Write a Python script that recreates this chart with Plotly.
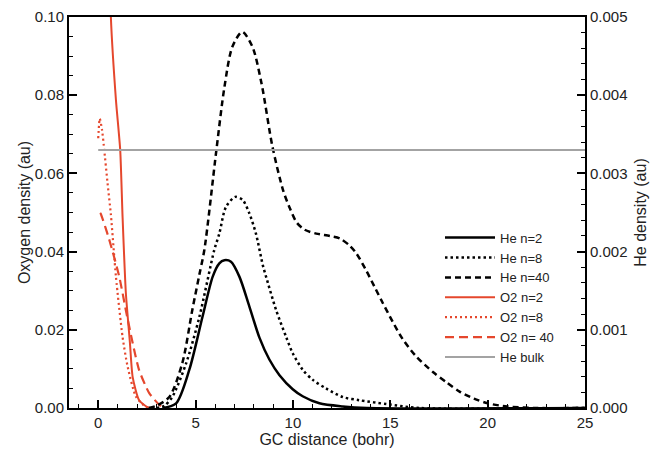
import plotly.graph_objects as go

# ---- data ----
he_n2_x = [3.3, 4.0, 4.68, 5.35, 5.88, 6.22, 6.48, 6.82, 7.25, 7.76, 8.28, 8.79, 9.31, 9.99, 10.5, 11.36, 12.56, 13.8, 25]
he_n2_y = [0, 0.00006, 0.00049, 0.00116, 0.00168, 0.00185, 0.00189, 0.00187, 0.00168, 0.0013, 0.0009, 0.00062,
           0.00042, 0.00024, 0.00015, 0.00006, 0.00002, 0, 0]

he_n8_x = [3.0, 3.4, 3.8, 4.52, 5.19, 5.96, 6.22, 6.56, 7.04, 7.42, 7.76, 8.1, 8.45, 8.62, 9.14, 9.65, 9.99,
           10.5, 11.02, 11.7, 12.56, 13.4, 14.8, 16.5, 25]
he_n8_y = [0, 0.00003, 0.00014, 0.000575, 0.00116, 0.00202, 0.00223, 0.00257, 0.0027, 0.00266, 0.00249, 0.00223,
           0.00183, 0.00168, 0.00125, 0.00091, 0.0007, 0.00049, 0.00036, 0.00025, 0.00014, 0.0001, 0.00005, 0, 0]

he_n40_x = [2.6, 3.0, 3.65, 4.32, 4.83, 5.19, 5.45, 6.07, 6.48, 6.89, 7.4, 7.92, 8.38, 8.95, 9.5, 9.85, 10.2,
            10.6, 11.2, 11.9, 12.4, 12.9, 13.25, 13.76, 14.19, 14.62, 15.13, 15.64, 16.33, 17.19, 17.88, 18.56,
            19.3, 20.0, 21.0, 22.5, 25]
he_n40_y = [0, 0.00003, 0.00014, 0.000575, 0.00125, 0.0017, 0.00202, 0.0033, 0.0041, 0.00462, 0.00481, 0.00462,
            0.00416, 0.00334, 0.00278, 0.00255, 0.00237, 0.00228, 0.00223, 0.0022, 0.00217, 0.00208, 0.00198,
            0.00176, 0.00155, 0.00134, 0.0011, 0.00088, 0.00066, 0.00046, 0.00033, 0.00021, 0.00012, 0.00006,
            0.00002, 0, 0]

o2_n2_x = [0.55, 0.65, 0.91, 1.13, 1.25, 1.42, 1.63, 1.77, 2.1, 2.5, 2.7]
o2_n2_y = [0.125, 0.1, 0.0788, 0.066, 0.049, 0.0294, 0.0166, 0.0079, 0.002, 0.0003, 0]

o2_n8_x = [0.0, 0.08, 0.2, 0.31, 0.48, 0.65, 0.91, 1.25, 1.51, 1.94, 2.45, 2.8]
o2_n8_y = [0.069, 0.074, 0.071, 0.066, 0.0575, 0.0495, 0.0336, 0.0182, 0.0106, 0.0029, 0.0003, 0]

o2_n40_x = [0.1, 0.13, 0.57, 1.08, 1.42, 1.77, 2.1, 2.62, 3.14, 3.4]
o2_n40_y = [0.0499, 0.0497, 0.043, 0.0336, 0.025, 0.0166, 0.0097, 0.0038, 0.0008, 0]

he_bulk_x = [0, 25]
he_bulk_y = [0.0033, 0.0033]

RED = "#e5472d"
FONT = "Liberation Sans, Arial, Helvetica, sans-serif"

fig = go.Figure()
fig.add_trace(go.Scatter(x=he_n2_x, y=he_n2_y, name="He n=2", yaxis="y2", mode="lines",
                         line=dict(color="black", width=2.5, shape="spline", smoothing=0.8)))
fig.add_trace(go.Scatter(x=he_n8_x, y=he_n8_y, name="He n=8", yaxis="y2", mode="lines",
                         line=dict(color="black", width=2.5, dash="2.5px,3px", shape="spline", smoothing=0.8)))
fig.add_trace(go.Scatter(x=he_n40_x, y=he_n40_y, name="He n=40", yaxis="y2", mode="lines",
                         line=dict(color="black", width=2.5, dash="6px,4px", shape="spline", smoothing=0.8)))
fig.add_trace(go.Scatter(x=o2_n2_x, y=o2_n2_y, name="O2 n=2", mode="lines",
                         line=dict(color=RED, width=2, shape="spline", smoothing=0.6)))
fig.add_trace(go.Scatter(x=o2_n8_x, y=o2_n8_y, name="O2 n=8", mode="lines",
                         line=dict(color=RED, width=2.2, dash="2px,3px", shape="spline", smoothing=0.6)))
fig.add_trace(go.Scatter(x=o2_n40_x, y=o2_n40_y, name="O2 n= 40", mode="lines",
                         line=dict(color=RED, width=2.2, dash="9px,5px", shape="spline", smoothing=0.6)))
fig.add_trace(go.Scatter(x=he_bulk_x, y=he_bulk_y, name="He bulk", yaxis="y2", mode="lines",
                         line=dict(color="#a3a3a3", width=2)))

axis_common = dict(showline=True, linecolor="black", linewidth=2, ticks="inside", automargin=False,
                   tickcolor="black", tickwidth=1.5, ticklen=8, showgrid=False, zeroline=False,
                   tickfont=dict(size=15, color="#222", family=FONT))

fig.update_layout(
    width=657, height=453,
    margin=dict(l=69, r=72, t=17, b=45),
    paper_bgcolor="white", plot_bgcolor="white",
    font=dict(family=FONT, color="#222"),
    xaxis=dict(range=[-1.5, 25], dtick=5, tick0=0, mirror=True,
               minor=dict(dtick=1, ticks="inside", ticklen=4, tickcolor="black", tickwidth=1),
               title=dict(text="GC distance (bohr)", font=dict(size=16, family=FONT), standoff=2),
               **axis_common),
    yaxis=dict(range=[0, 0.1], dtick=0.02, tickformat=".2f",
               minor=dict(dtick=0.005, ticks="inside", ticklen=4, tickcolor="black", tickwidth=1),
               title=dict(text="Oxygen density (au)", font=dict(size=16, family=FONT), standoff=0),
               **axis_common),
    yaxis2=dict(range=[0, 0.005], dtick=0.001, tickformat=".3f", overlaying="y", side="right",
                minor=dict(dtick=0.0002, ticks="inside", ticklen=4, tickcolor="black", tickwidth=1),
                title=dict(text="He density (au)", font=dict(size=16, family=FONT), standoff=8),
                **axis_common),
    legend=dict(x=0.719, y=0.474, xanchor="left", yanchor="top", bgcolor="rgba(0,0,0,0)",
                font=dict(size=13, family=FONT, color="#222"), itemwidth=50, tracegroupgap=0),
    showlegend=True,
)

fig.write_html("out.html", config={"displayModeBar": False},
               post_script="document.body.style.margin='0';document.body.style.padding='0';")
